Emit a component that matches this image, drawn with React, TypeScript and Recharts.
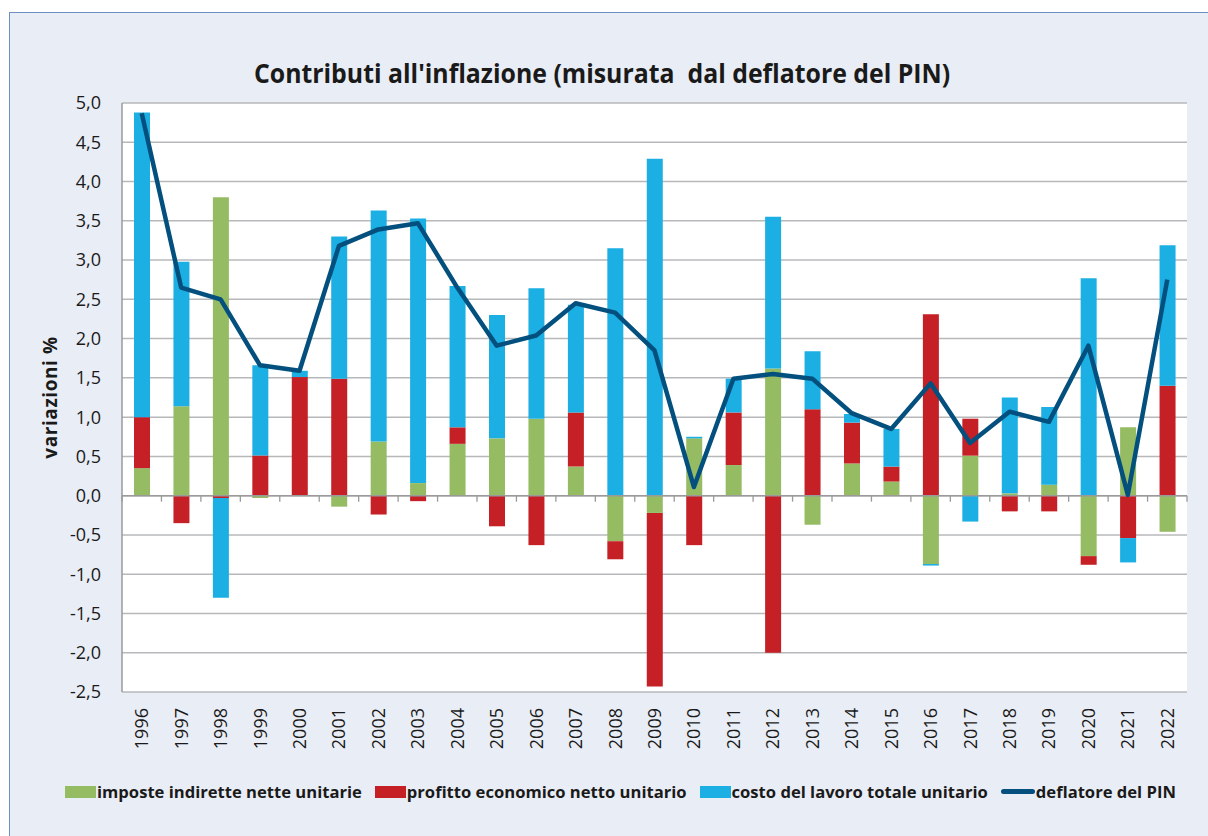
import { Bar, CartesianGrid, ComposedChart, Line, ReferenceLine, XAxis, YAxis } from 'recharts'

const years = [
  '1996', '1997', '1998', '1999', '2000', '2001', '2002', '2003', '2004', '2005',
  '2006', '2007', '2008', '2009', '2010', '2011', '2012', '2013', '2014', '2015',
  '2016', '2017', '2018', '2019', '2020', '2021', '2022',
]

// imposte indirette nette unitarie
const imposte = [
  0.35, 1.14, 3.8, -0.03, 0.0, -0.14, 0.69, 0.16, 0.66, 0.73,
  0.98, 0.37, -0.58, -0.22, 0.73, 0.39, 1.62, -0.37, 0.41, 0.18,
  -0.87, 0.51, 0.03, 0.14, -0.77, 0.87, -0.46,
]

// profitto economico netto unitario
const profitto = [
  0.65, -0.35, -0.03, 0.51, 1.51, 1.49, -0.24, -0.07, 0.21, -0.39,
  -0.63, 0.69, -0.23, -2.21, -0.63, 0.67, -2.0, 1.1, 0.52, 0.19,
  2.31, 0.47, -0.2, -0.2, -0.11, -0.54, 1.4,
]

// costo del lavoro totale unitario
const costoLavoro = [
  3.88, 1.84, -1.27, 1.15, 0.08, 1.81, 2.94, 3.37, 1.8, 1.57,
  1.66, 1.37, 3.15, 4.29, 0.02, 0.43, 1.93, 0.74, 0.11, 0.48,
  -0.02, -0.33, 1.22, 0.99, 2.77, -0.31, 1.79,
]

// deflatore del PIN
const deflatore = [
  4.87, 2.65, 2.5, 1.66, 1.59, 3.18, 3.39, 3.47, 2.65, 1.91,
  2.04, 2.45, 2.33, 1.85, 0.11, 1.49, 1.55, 1.49, 1.05, 0.85,
  1.43, 0.67, 1.07, 0.94, 1.91, 0.01, 2.75,
]

const yTicks = [-2.5, -2.0, -1.5, -1.0, -0.5, 0.0, 0.5, 1.0, 1.5, 2.0, 2.5, 3.0, 3.5, 4.0, 4.5, 5.0]

const COLORS = {
  imposte: '#95bb63',
  profitto: '#c42026',
  costo: '#1bafe3',
  deflatore: '#03507f',
  grid: '#b6b8ba',
  axis: '#9a9a9a',
  page: '#e9edf5',
  frame: '#6d8fc4',
  ink: '#1a1a1a',
}

const FONT = '"Open Sans", "DejaVu Sans", sans-serif'

const WIDTH = 1208
const HEIGHT = 836
const PLOT = { left: 122, right: 1187, top: 103, bottom: 692 }
const Y_MIN = -2.5
const Y_MAX = 5

const data = years.map((year, i) => ({
  year,
  imposte: imposte[i],
  profitto: profitto[i],
  costo: costoLavoro[i],
  deflatore: deflatore[i],
}))

const formatTick = (v: number) => v.toFixed(1).replace('.', ',')

const zeroY = PLOT.top + (Y_MAX / (Y_MAX - Y_MIN)) * (PLOT.bottom - PLOT.top)
const catWidth = (PLOT.right - PLOT.left) / years.length

function YearTick(props: any) {
  const { x, y, payload, index } = props
  const ty = y + 16
  const bx = x - catWidth / 2
  return (
    <g>
      <line x1={bx} x2={bx} y1={zeroY} y2={zeroY + 6} stroke={COLORS.axis} strokeWidth={1.3} />
      {index === years.length - 1 && (
        <line x1={x + catWidth / 2} x2={x + catWidth / 2} y1={zeroY} y2={zeroY + 6} stroke={COLORS.axis} strokeWidth={1.3} />
      )}
      <text
        x={x}
        y={ty}
        transform={`rotate(-90, ${x}, ${ty})`}
        textAnchor="end"
        dy="0.36em"
        fontSize={18}
        fontFamily={FONT}
        fill={COLORS.ink}
      >
        {payload.value}
      </text>
    </g>
  )
}

function YLabel(props: any) {
  const { viewBox } = props
  const cx = viewBox.x - 12
  const cy = viewBox.y + viewBox.height / 2
  return (
    <text
      x={cx}
      y={cy}
      transform={`rotate(-90, ${cx}, ${cy})`}
      textAnchor="middle"
      dominantBaseline="central"
      fontSize={19}
      fontWeight="bold"
      fontFamily={FONT}
      letterSpacing={0.6}
      fill={COLORS.ink}
    >
      variazioni %
    </text>
  )
}

const legendItems = [
  { label: 'imposte indirette nette unitarie', color: COLORS.imposte, kind: 'box' },
  { label: 'profitto economico netto unitario', color: COLORS.profitto, kind: 'box' },
  { label: 'costo del lavoro totale unitario', color: COLORS.costo, kind: 'box' },
  { label: 'deflatore del PIN', color: COLORS.deflatore, kind: 'line' },
]

function ChartLegend() {
  return (
    <div
      style={{
        position: 'absolute',
        left: 65,
        top: 780,
        display: 'flex',
        alignItems: 'center',
        gap: 13,
        fontFamily: FONT,
        fontWeight: 'bold',
        fontSize: 16.6,
        color: COLORS.ink,
        whiteSpace: 'nowrap',
      }}
    >
      {legendItems.map((item) => (
        <div key={item.label} style={{ display: 'flex', alignItems: 'center', gap: 1 }}>
          {item.kind === 'box' ? (
            <span style={{ display: 'inline-block', width: 31, height: 12, background: item.color }} />
          ) : (
            <span
              style={{ display: 'inline-block', width: 34, height: 5, borderRadius: 3, background: item.color }}
            />
          )}
          <span>{item.label}</span>
        </div>
      ))}
    </div>
  )
}

function App() {
  return (
    <div style={{ position: 'relative', width: WIDTH, height: HEIGHT, background: '#fff', overflow: 'hidden' }}>
      <style>{'body{margin:0;overflow:hidden}'}</style>
      <div
        style={{
          position: 'absolute',
          left: 9,
          top: 12,
          right: 0,
          bottom: 0,
          background: COLORS.page,
          borderLeft: `1.5px solid ${COLORS.frame}`,
          borderTop: `1.5px solid ${COLORS.frame}`,
        }}
      />
      <div
        style={{
          position: 'absolute',
          left: 0,
          width: WIDTH,
          top: 56,
          textAlign: 'center',
          fontFamily: FONT,
          fontWeight: 'bold',
          fontSize: 27,
          lineHeight: '34px',
          color: COLORS.ink,
          transform: 'translateX(-2px) scaleX(0.92)',
          transformOrigin: '605px 0',
        }}
      >
        Contributi all'inflazione (misurata&nbsp; dal deflatore del PIN)
      </div>
      <div style={{ position: 'absolute', left: 0, top: 0 }}>
        <ComposedChart
          width={WIDTH}
          height={HEIGHT}
          data={data}
          stackOffset="sign"
          barSize={16}
          margin={{ top: PLOT.top, right: WIDTH - PLOT.right, left: PLOT.left - 60, bottom: 84 }}
        >
          <CartesianGrid vertical={false} stroke={COLORS.grid} strokeWidth={1.5} fill="#ffffff" />
          <XAxis
            dataKey="year"
            axisLine={false}
            tickLine={false}
            tickSize={0}
            tickMargin={0}
            interval={0}
            height={60}
            tick={<YearTick />}
          />
          <YAxis
            domain={[Y_MIN, Y_MAX]}
            ticks={yTicks}
            interval={0}
            width={60}
            tickFormatter={formatTick}
            tickLine={false}
            tickSize={0}
            tickMargin={21}
            axisLine={{ stroke: COLORS.axis, strokeWidth: 1.5 }}
            tick={{ fontSize: 18, fontFamily: FONT, fill: COLORS.ink }}
            label={<YLabel />}
          />
          <Bar dataKey="imposte" stackId="a" fill={COLORS.imposte} isAnimationActive={false} />
          <Bar dataKey="profitto" stackId="a" fill={COLORS.profitto} isAnimationActive={false} />
          <Bar dataKey="costo" stackId="a" fill={COLORS.costo} isAnimationActive={false} />
          <ReferenceLine y={0} stroke={COLORS.axis} strokeWidth={1.5} />
          <Line
            type="linear"
            dataKey="deflatore"
            stroke={COLORS.deflatore}
            strokeWidth={4.5}
            strokeLinejoin="round"
            dot={false}
            activeDot={false}
            isAnimationActive={false}
          />
        </ComposedChart>
      </div>
      <ChartLegend />
    </div>
  )
}

export default App
